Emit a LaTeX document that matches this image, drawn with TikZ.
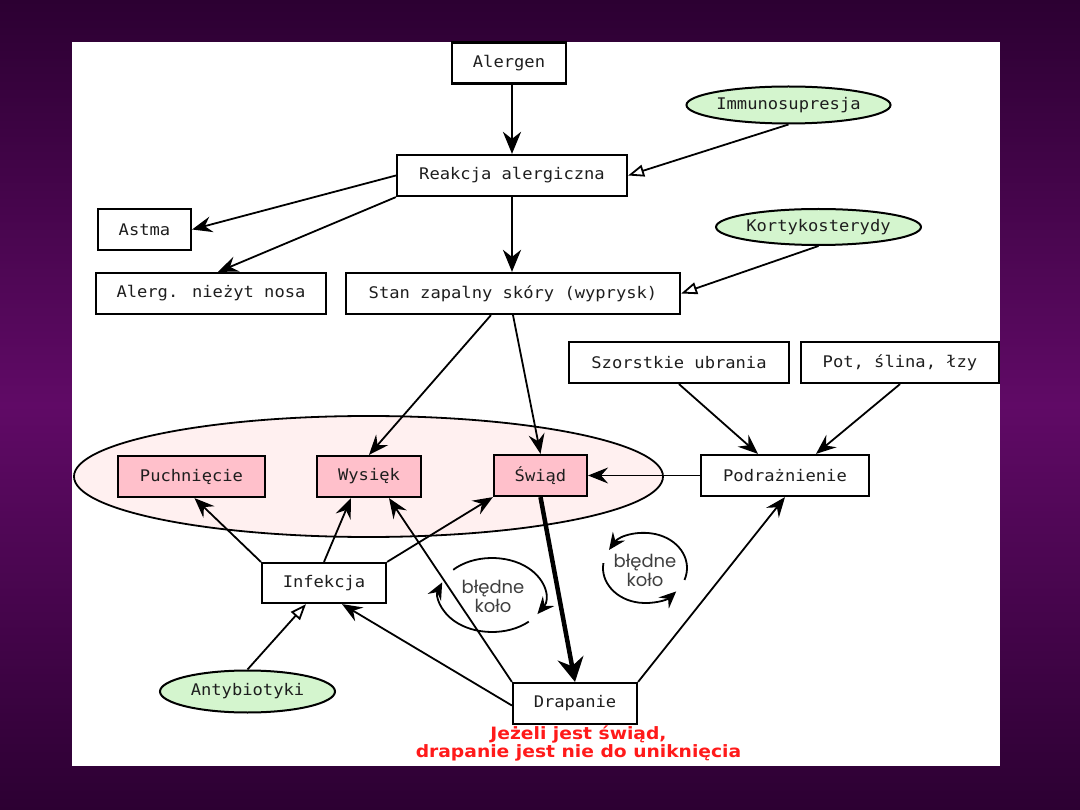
\documentclass[tikz,border=0pt]{standalone}
\usepackage{fontspec}
\usetikzlibrary{arrows.meta,shapes.geometric,calc}
\newfontfamily\boxfont[FakeStretch=1.07]{DejaVu Sans Mono}
\newfontfamily\redfont[FakeStretch=1.1]{DejaVu Sans}
\newfontfamily\cyclefont{Poppins}
\definecolor{bgdark}{HTML}{2C0032}
\definecolor{bglight}{HTML}{600A66}
\definecolor{pinkbox}{HTML}{FFC0CB}
\definecolor{greenell}{HTML}{D4F5CE}
\definecolor{blushfill}{HTML}{FFF0F0}
\definecolor{txt}{HTML}{1E1E1E}
\definecolor{redtxt}{HTML}{FF1A1A}
\tikzset{
  box/.style={draw=black, line width=2.2pt, fill=white, inner sep=0pt,
    font=\boxfont\fontsize{16}{18}\selectfont, text=txt},
  pbox/.style={box, fill=pinkbox},
  gell/.style={ellipse, draw=black, line width=2pt, fill=greenell, inner sep=0pt,
    font=\boxfont\fontsize{16}{18}\selectfont, text=txt},
  arr/.style={line width=1.8pt, -{Stealth[length=20pt,width=16pt,inset=7pt]}},
  thickarr/.style={line width=2.8pt, -{Stealth[length=22pt,width=18pt,inset=7pt]}},
  vthickarr/.style={line width=4.5pt, -{Stealth[length=24pt,width=26pt,inset=8pt]}},
  oarr/.style={line width=1.8pt, -{Triangle[open,length=16pt,width=12pt,fill=white]}},
  carr/.style={line width=1.8pt, -{Stealth[length=17pt,width=15pt,inset=6pt]}},
  cyc/.style={font=\cyclefont\fontsize{18}{19}\selectfont, align=center, text=txt!85, inner sep=0pt},
}
\begin{document}
\begin{tikzpicture}[x=1pt,y=-1pt]
\useasboundingbox (0,0) rectangle (1080,810);
\shade[top color=bgdark, bottom color=bgdark, middle color=bglight] (0,0) rectangle (1080,810);
\fill[white] (72,42) rectangle (1000,766);

% group ellipse
\node[ellipse, draw=black, line width=1.8pt, fill=blushfill, minimum width=589pt, minimum height=121pt, inner sep=0pt] (group) at (368.5,476.5) {};

% nodes
\node[box, minimum width=114pt, minimum height=41pt] (alergen) at (509,63) {Alergen};
\node[box, minimum width=230pt, minimum height=41pt] (reakcja) at (512,175.5) {Reakcja alergiczna};
\node[gell, minimum width=203pt, minimum height=37pt] (immuno) at (788.5,105) {Immunosupresja};
\node[box, minimum width=93pt, minimum height=41pt] (astma) at (144.5,229.5) {Astma};
\node[box, minimum width=230pt, minimum height=41pt] (nosa) at (211,293.5) {Alerg. nieżyt nosa};
\node[box, minimum width=334pt, minimum height=41pt] (stan) at (513,293.5) {Stan zapalny skóry (wyprysk)};
\node[gell, minimum width=205pt, minimum height=36pt] (korty) at (818.5,227) {Kortykosterydy};
\node[box, minimum width=220pt, minimum height=41pt] (szorst) at (679,362.5) {Szorstkie ubrania};
\node[box, minimum width=198pt, minimum height=41pt] (pot) at (900,362.5) {Pot, ślina, łzy};
\node[box, minimum width=168pt, minimum height=41pt] (podr) at (785,475.5) {Podrażnienie};
\node[pbox, minimum width=147pt, minimum height=41pt] (puch) at (191.5,476.5) {Puchnięcie};
\node[pbox, minimum width=104pt, minimum height=41pt] (wysiek) at (369,476.5) {Wysięk};
\node[pbox, minimum width=93pt, minimum height=41pt] (swiad) at (540.5,475.5) {Świąd};
\node[box, minimum width=124pt, minimum height=40pt] (infek) at (324,583) {Infekcja};
\node[gell, minimum width=175pt, minimum height=42pt] (anty) at (247.5,691.5) {Antybiotyki};
\node[box, minimum width=124pt, minimum height=41pt] (drap) at (575,703.5) {Drapanie};
\node[font=\redfont\bfseries\fontsize{17}{18}\selectfont, text=redtxt, align=center, inner sep=0pt] (note) at (578.5,743.5) {Jeżeli jest świąd,\\drapanie jest nie do uniknięcia};

% connectors
\draw[thickarr] (alergen.south -| reakcja) -- (reakcja.north);
\draw[thickarr] (reakcja.south) -- (reakcja.south |- stan.north);
\draw[oarr] (immuno.south) -- (reakcja.east);
\draw[oarr] (korty.south) -- (stan.east);
\draw[arr] (reakcja.west) -- (astma.east);
\draw[arr] (reakcja.south west) -- ([xshift=7pt]nosa.north);
\draw[arr] ([xshift=-22pt]stan.south) -- (wysiek.north);
\draw[arr] (stan.south) -- (swiad.north);
\draw[arr] (szorst.south) -- ([xshift=-27pt]podr.north);
\draw[arr] (pot.south) -- ([xshift=31pt]podr.north);
\draw[arr] (podr.west) -- (swiad.east);
\draw[vthickarr] (swiad.south) -- (drap.north);
\draw[arr] ([yshift=-2pt]drap.west) -- ([xshift=18pt]infek.south);
\draw[arr] (drap.north west) -- ([xshift=20pt]wysiek.south);
\draw[arr] (drap.north east) -- (podr.south);
\draw[arr] (infek.north west) -- ([xshift=3pt]puch.south);
\draw[arr] (infek.north) -- ([xshift=-18pt]wysiek.south);
\draw[arr] (infek.north east) -- (swiad.south west);
\draw[oarr] (anty.north) -- ([xshift=-18pt]infek.south);

% vicious circles
\coordinate (c1) at (492,595);
\draw[carr] ([shift={(223:53 and 37)}]c1) arc[start angle=223, end angle=391, x radius=53, y radius=37];
\draw[carr] ([shift={(46:53 and 37)}]c1) arc[start angle=46, end angle=200, x radius=53, y radius=37];
\node[cyc] (k1) at (493,596) {błędne\\koło};
\coordinate (c2) at (645,568);
\draw[carr] ([shift={(20:42 and 35)}]c2) arc[start angle=20, end angle=-149, x radius=42, y radius=35];
\draw[carr] ([shift={(188:42 and 35)}]c2) arc[start angle=188, end angle=42, x radius=42, y radius=35];
\node[cyc] (k2) at (645,570) {błędne\\koło};
\end{tikzpicture}
\end{document}
